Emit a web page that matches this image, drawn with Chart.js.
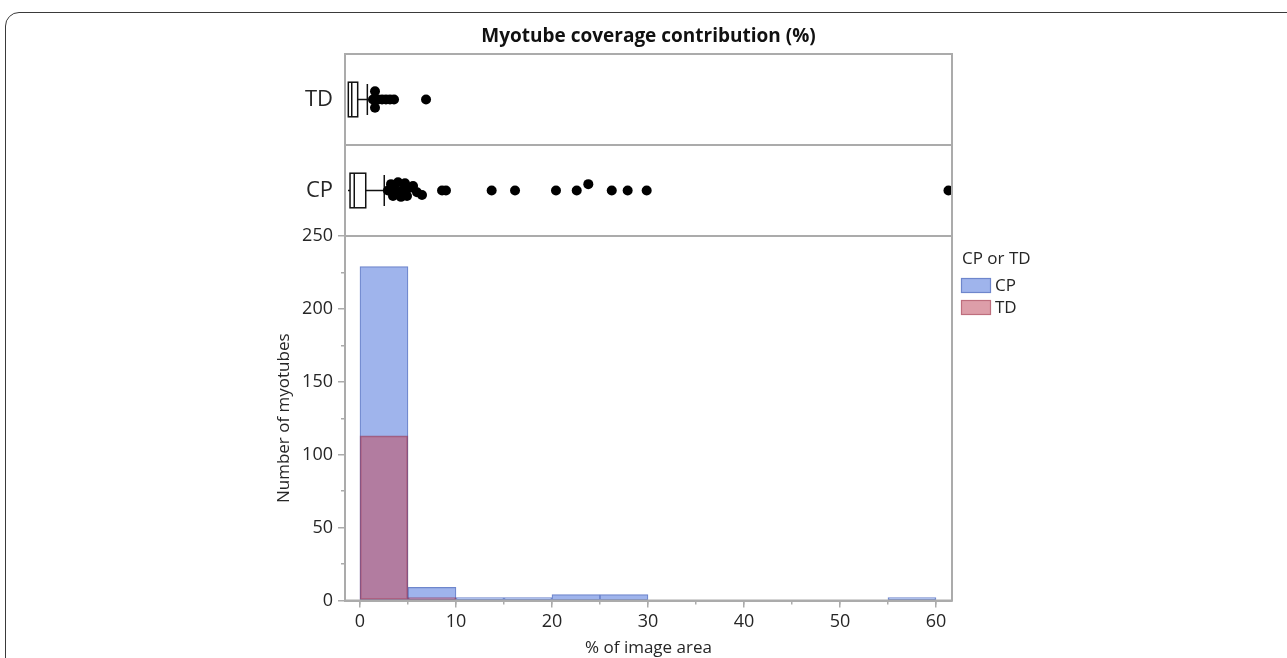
<!DOCTYPE html>
<html><head><meta charset="utf-8">
<script src="https://cdn.jsdelivr.net/npm/chart.js@4.4.1/dist/chart.umd.min.js"></script>
<style>
html,body{margin:0;padding:0;background:#fff;width:1287px;height:658px;overflow:hidden;}
#frame{position:absolute;left:5px;top:12px;width:1400px;height:800px;border:1.5px solid #3a3a3a;border-radius:14px;box-sizing:border-box;}
canvas{position:absolute;left:0;top:0;}
</style></head><body>
<div id="frame"></div>
<canvas id="hist" width="1287" height="658"></canvas>
<canvas id="box" width="1287" height="658"></canvas>
<script>
// ---- data ----
const binStarts = [0, 5, 10, 15, 20, 25, 30, 35, 40, 45, 50, 55];
const binWidth = 5;
const cpCounts = [229, 9, 2, 2, 4, 4, 0, 0, 0, 0, 0, 2];
const tdCounts = [113, 2, 0, 0, 0, 0, 0, 0, 0, 0, 0, 0];
const groupLabels = ['CP', 'TD'];
// box stats: [min, q1, median, q3, upper whisker]
const cpBox = [0.0, 0.2, 0.62, 1.76, 3.6];
const tdBox = [0.03, 0.03, 0.37, 0.96, 1.92];
const cpOutliers = [3.97, 4.27, 4.47, 4.7, 4.97, 5.26, 5.4, 5.66, 5.86, 6.16, 6.46, 6.85, 7.35, 9.34, 9.73, 14.27, 16.59, 20.66, 22.72, 23.87, 26.20, 27.78, 29.67, 59.65];
const cpJitter   = [0, 0.07, -0.06, 0, 0.09, -0.07, 0, 0.08, -0.06, 0.03, 0.05, -0.02, -0.05, 0, 0, 0, 0, 0, 0, 0.07, 0, 0, 0, 0];
const tdOutliers = [2.48, 2.68, 2.68, 2.98, 3.38, 3.77, 4.17, 4.57, 7.75];
const tdJitter   = [0, 0.09, -0.09, 0, 0, 0, 0, 0, 0];
const xTicksMajor = [0, 10, 20, 30, 40, 50, 60];
const yTicksMajor = [0, 50, 100, 150, 200, 250];

// ---- styles ----
const FONT = "'Open Sans', 'Noto Sans', sans-serif";
Chart.defaults.font.family = FONT;
const CP_FILL = 'rgb(159,180,236)';
const CP_BORDER = 'rgb(110,134,204)';
const TD_FILL = 'rgba(193,78,98,0.55)';
const TD_BORDER = 'rgba(140,50,85,0.6)';
const TD_SWATCH = 'rgb(221,158,169)';
const TD_SWATCH_BORDER = 'rgb(190,110,125)';
const AXIS = '#ababab';
const TEXT = '#262626';

const framePlugin = {
  id: 'frame',
  afterDraw(chart) {
    const {ctx, chartArea: a} = chart;
    ctx.save();
    ctx.strokeStyle = AXIS; ctx.lineWidth = 2;
    ctx.strokeRect(a.left, a.top, a.right - a.left, a.bottom - a.top);
    ctx.restore();
  }
};

const legendPlugin = {
  id: 'jmpLegend',
  afterDraw(chart) {
    const {ctx, chartArea: a} = chart;
    const x0 = a.right + 9;
    ctx.save();
    ctx.font = '17px ' + FONT;
    ctx.fillStyle = TEXT;
    ctx.textBaseline = 'middle';
    ctx.textAlign = 'left';
    ctx.fillText('CP or TD', x0 + 1, a.top + 23);
    const items = [[groupLabels[0], CP_FILL, CP_BORDER], [groupLabels[1], TD_SWATCH, TD_SWATCH_BORDER]];
    items.forEach((it, i) => {
      const yy = a.top + 42 + i * 22;
      ctx.fillStyle = it[1];
      ctx.fillRect(x0, yy, 30, 15);
      ctx.strokeStyle = it[2]; ctx.lineWidth = 1.2;
      ctx.strokeRect(x0 + 0.5, yy + 0.5, 29, 14);
      ctx.fillStyle = TEXT;
      ctx.fillText(it[0], x0 + 34, yy + 8);
    });
    ctx.restore();
  }
};

const xMin = -1.56, xMax = 61.67;

new Chart(document.getElementById('hist'), {
  type: 'bar',
  data: {
    datasets: [
      {label: 'CP', xAxisID: 'x', yAxisID: 'y', order: 1,
       data: binStarts.map((s, i) => ({x: s + binWidth / 2, y: cpCounts[i] || null})),
       backgroundColor: CP_FILL, borderColor: CP_BORDER, borderWidth: 1.2},
      {label: 'TD', xAxisID: 'x', yAxisID: 'y', order: 0,
       data: binStarts.map((s, i) => ({x: s + binWidth / 2, y: tdCounts[i] || null})),
       backgroundColor: TD_FILL, borderColor: TD_BORDER, borderWidth: 1.2}
    ]
  },
  options: {
    responsive: false, animation: false, devicePixelRatio: 1,
    layout: {padding: {left: 265, right: 335, top: 236, bottom: 0}},
    datasets: {bar: {barPercentage: 1, categoryPercentage: 1, grouped: false, borderSkipped: false}},
    plugins: {legend: {display: false}, tooltip: {enabled: false}},
    scales: {
      x: {
        type: 'linear', position: 'bottom', weight: 1, min: xMin, max: xMax, offset: false,
        afterBuildTicks(s) { s.ticks = xTicksMajor.map(v => ({value: v})); },
        afterFit(s) { s.height = 57.5; },
        ticks: {color: TEXT, font: {size: 18}, padding: 4, maxRotation: 0, autoSkip: false},
        grid: {offset: false, drawOnChartArea: false, drawTicks: true, tickLength: 7, color: AXIS, lineWidth: 1.5},
        border: {display: true, color: AXIS, width: 2},
        title: {display: true, text: '% of image area', color: TEXT, font: {size: 17}, padding: {top: 0, bottom: 0}}
      },
      x2: {
        type: 'linear', position: 'bottom', weight: 0, min: xMin, max: xMax, offset: false,
        afterBuildTicks(s) { s.ticks = binStarts.concat([60]).map(v => ({value: v})); },
        afterFit(s) { s.height = 0; },
        ticks: {display: false},
        grid: {offset: false, drawOnChartArea: false, drawTicks: true, tickLength: 4, color: AXIS, lineWidth: 1.5},
        border: {display: false}
      },
      y: {
        type: 'linear', position: 'left', weight: 1, min: 0, max: 250,
        afterBuildTicks(s) { s.ticks = yTicksMajor.map(v => ({value: v})); },
        afterFit(s) { s.width = 80; },
        ticks: {color: TEXT, font: {size: 18}, padding: 5},
        grid: {drawOnChartArea: false, drawTicks: true, tickLength: 7, color: AXIS, lineWidth: 1.5},
        border: {display: true, color: AXIS, width: 2},
        title: {display: true, text: 'Number of myotubes', color: TEXT, font: {size: 17}, padding: {top: 9, bottom: 0}}
      },
      y2: {
        type: 'linear', position: 'left', weight: 0, min: 0, max: 250,
        afterBuildTicks(s) { s.ticks = [25, 75, 125, 175, 225].map(v => ({value: v})); },
        afterFit(s) { s.width = 0; },
        ticks: {display: false},
        grid: {drawOnChartArea: false, drawTicks: true, tickLength: 4, color: AXIS, lineWidth: 1.5},
        border: {display: false}
      }
    }
  },
  plugins: [framePlugin, legendPlugin]
});

const boxHalf = 0.19;
const boxPlugin = {
  id: 'boxes',
  beforeDatasetsDraw(chart) {
    const {ctx, scales: {x, y}} = chart;
    [cpBox, tdBox].forEach((s, gi) => {
      const yc = y.getPixelForValue(gi);
      const h = Math.abs(y.getPixelForValue(gi + boxHalf) - yc);
      const [mn, q1, md, q3, mx] = s.map(v => x.getPixelForValue(v));
      ctx.save();
      ctx.strokeStyle = '#111'; ctx.lineWidth = 1.5;
      ctx.beginPath();
      ctx.moveTo(mn, yc); ctx.lineTo(q1, yc);
      ctx.moveTo(q3, yc); ctx.lineTo(mx, yc);
      ctx.moveTo(mx, yc - h * 0.9); ctx.lineTo(mx, yc + h * 0.9);
      ctx.stroke();
      ctx.fillStyle = '#fff';
      ctx.fillRect(q1, yc - h, q3 - q1, 2 * h);
      ctx.strokeRect(q1, yc - h, q3 - q1, 2 * h);
      ctx.beginPath();
      ctx.moveTo(md, yc - h); ctx.lineTo(md, yc + h);
      ctx.stroke();
      ctx.restore();
    });
  }
};

new Chart(document.getElementById('box'), {
  type: 'scatter',
  data: {
    datasets: [
      {label: 'CP', data: cpOutliers.map((v, i) => ({x: v, y: 0 + cpJitter[i]})),
       pointRadius: 5, backgroundColor: '#000', borderWidth: 0},
      {label: 'TD', data: tdOutliers.map((v, i) => ({x: v, y: 1 + tdJitter[i]})),
       pointRadius: 5, backgroundColor: '#000', borderWidth: 0}
    ]
  },
  options: {
    responsive: false, animation: false, devicePixelRatio: 1,
    layout: {padding: {left: 265, right: 335, top: 19, bottom: 422}},
    plugins: {
      legend: {display: false}, tooltip: {enabled: false},
      title: {display: true, text: 'Myotube coverage contribution (%)', fullSize: false, color: '#111',
              font: {size: 19, weight: 'bold'}, padding: {top: 6.6, bottom: 5.6}}
    },
    scales: {
      x: {type: 'linear', display: false, min: -0.3, max: 60},
      y: {
        type: 'linear', min: -0.5, max: 1.5,
        afterBuildTicks(s) { s.ticks = [-0.5, 0, 0.5, 1, 1.5].map(v => ({value: v})); },
        afterFit(s) { s.width = 80; },
        ticks: {callback: v => (v === 0 ? groupLabels[0] : v === 1 ? groupLabels[1] : ''),
                font: {size: 22}, color: TEXT, padding: 12},
        grid: {drawTicks: false, lineWidth: 2,
               color: c => (c.tick && c.tick.value === 0.5 ? AXIS : 'rgba(0,0,0,0)')},
        border: {display: false}
      }
    }
  },
  plugins: [framePlugin, boxPlugin]
});
</script>
</body></html>
